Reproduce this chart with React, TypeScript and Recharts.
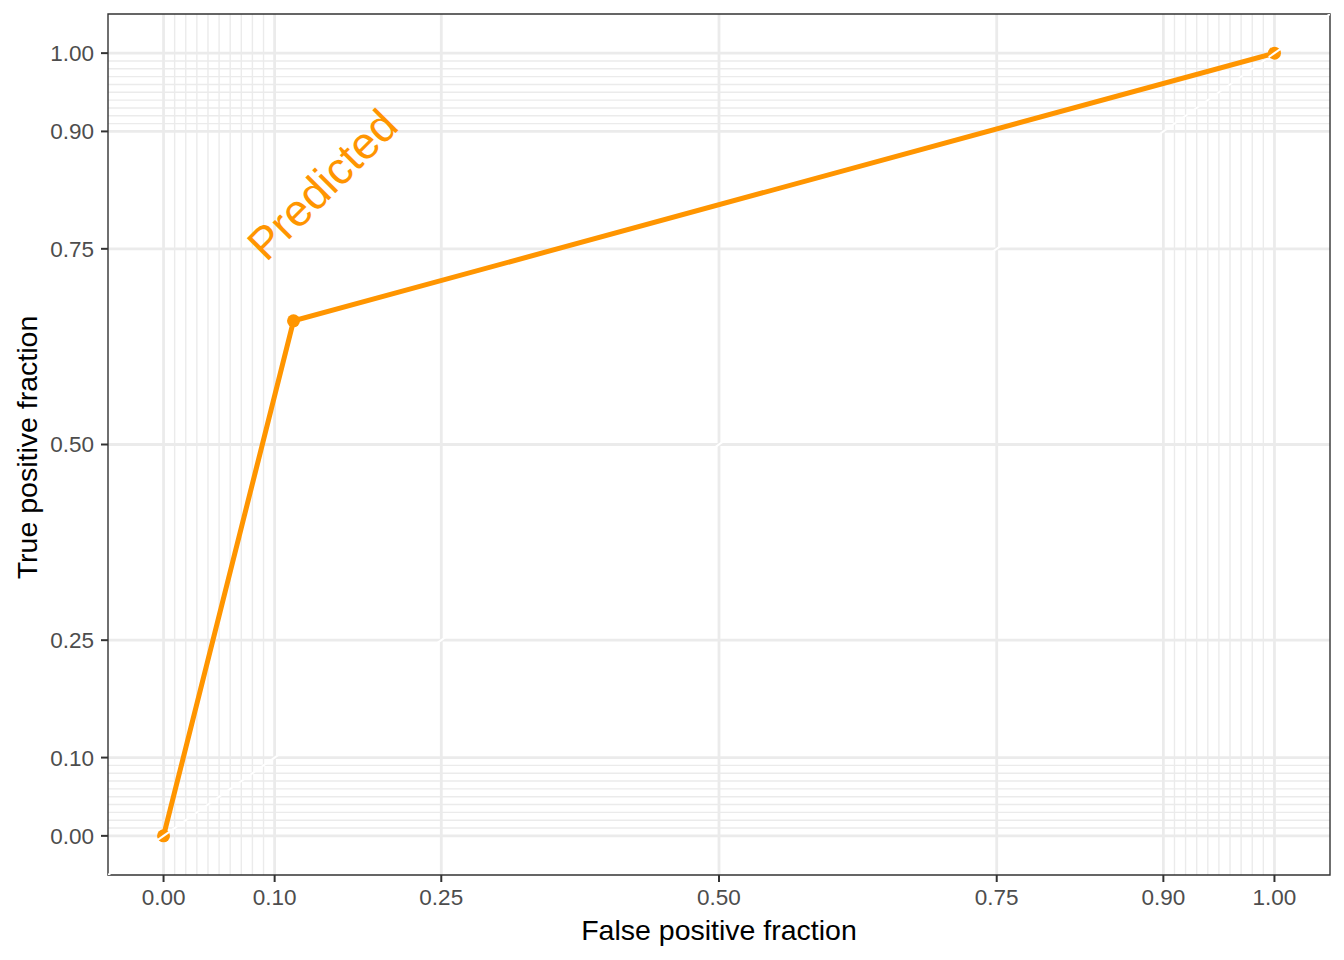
import { ComposedChart, Line, XAxis, YAxis, CartesianGrid, ReferenceArea, ReferenceDot, Label } from 'recharts'

// ROC points
const FPF = [0, 0.117, 1]
const TPF = [0, 0.658, 1]
const rocPoints = FPF.map((x, i) => ({ x, y: TPF[i] }))

// chance line across the whole panel
const DIAG_X = [-0.05, 1.05]
const diagPoints = DIAG_X.map((x) => ({ x, y: x }))

const MAJOR_TICKS = [0, 0.1, 0.25, 0.5, 0.75, 0.9, 1]
const MINOR_TICKS = [0.01, 0.02, 0.03, 0.04, 0.05, 0.06, 0.07, 0.08, 0.09, 0.91, 0.92, 0.93, 0.94, 0.95, 0.96, 0.97, 0.98, 0.99]
const DOMAIN: [number, number] = [-0.05, 1.05]

const LABEL_TEXT = 'Predicted'
const LABEL_AT = { x: 0.143, y: 0.832 }

const ORANGE = '#FF9500'
const GRID = '#EBEBEB'
const FONT = "'Liberation Sans', Arial, Helvetica, sans-serif"

const W = 1344
const H = 960
const MARGIN = { top: 14, right: 14, bottom: 0, left: 0 }
const Y_AXIS_W = 108
const X_AXIS_H = 85
// slope of the y = x line in screen space
const DIAG_ANGLE = (Math.atan((H - MARGIN.top - X_AXIS_H) / (W - MARGIN.right - Y_AXIS_W)) * 180) / Math.PI

const fmt = (v: number) => v.toFixed(2)

function XTitle({ viewBox }: any) {
    const { x, y, width } = viewBox
    return (
        <text x={x + width / 2} y={y + 65} textAnchor="middle" style={{ fill: '#000', fontSize: 28.5, fontFamily: FONT }}>
            False positive fraction
        </text>
    )
}

function YTitle({ viewBox }: any) {
    const { x, y, height } = viewBox
    const cx = x + 37
    const cy = y + height / 2 + 3
    return (
        <text x={cx} y={cy} textAnchor="middle" transform={`rotate(-90 ${cx} ${cy})`} style={{ fill: '#000', fontSize: 28.5, fontFamily: FONT }}>
            True positive fraction
        </text>
    )
}

function CurveLabel({ viewBox }: any) {
    const cx = viewBox.x + viewBox.width / 2
    const cy = viewBox.y + viewBox.height / 2
    return (
        <text x={cx} y={cy} textAnchor="middle" dominantBaseline="central" transform={`rotate(-45 ${cx} ${cy})`} style={{ fill: ORANGE, fontSize: 45, fontFamily: FONT }}>
            {LABEL_TEXT}
        </text>
    )
}

// dot with the white chance line running over it where it sits on y = x
function RocDot({ cx, cy, payload }: any) {
    if (cx == null || cy == null) return null
    const onDiag = payload && Math.abs(payload.x - payload.y) < 1e-9
    return (
        <g>
            <circle cx={cx} cy={cy} r={6.5} fill={ORANGE} />
            {onDiag && (
                <line x1={cx - 7} y1={cy} x2={cx + 7} y2={cy} stroke="#fff" strokeWidth={2} transform={`rotate(${-DIAG_ANGLE} ${cx} ${cy})`} />
            )}
        </g>
    )
}

const tickStyle = { fill: '#4D4D4D', fontSize: 22.5, fontFamily: FONT }

export default function App() {
    return (
        <div style={{ position: 'absolute', left: 0, top: 0, width: W, height: H, background: '#fff' }}>
            <ComposedChart width={W} height={H} margin={MARGIN}>
                <CartesianGrid horizontalValues={MINOR_TICKS} verticalValues={MINOR_TICKS} stroke={GRID} strokeWidth={1.4} />
                <CartesianGrid horizontalValues={MAJOR_TICKS} verticalValues={MAJOR_TICKS} stroke={GRID} strokeWidth={2.8} />
                <XAxis
                    type="number"
                    dataKey="x"
                    domain={DOMAIN}
                    ticks={MAJOR_TICKS}
                    interval={0}
                    allowDataOverflow
                    tickFormatter={fmt}
                    height={X_AXIS_H}
                    axisLine={false}
                    tickSize={7}
                    tickMargin={7}
                    tickLine={{ stroke: '#333', strokeWidth: 2 }}
                    tick={tickStyle}
                >
                    <Label content={<XTitle />} />
                </XAxis>
                <YAxis
                    type="number"
                    dataKey="y"
                    domain={DOMAIN}
                    ticks={MAJOR_TICKS}
                    interval={0}
                    allowDataOverflow
                    tickFormatter={fmt}
                    width={Y_AXIS_W}
                    axisLine={false}
                    tickSize={7}
                    tickMargin={7}
                    tickLine={{ stroke: '#333', strokeWidth: 2 }}
                    tick={tickStyle}
                >
                    <Label content={<YTitle />} />
                </YAxis>
                <Line data={diagPoints} dataKey="y" stroke="#fff" strokeWidth={2} dot={false} activeDot={false} isAnimationActive={false} />
                <Line
                    data={rocPoints}
                    dataKey="y"
                    stroke={ORANGE}
                    strokeWidth={5}
                    dot={<RocDot />}
                    activeDot={false}
                    isAnimationActive={false}
                />
                <ReferenceDot x={LABEL_AT.x} y={LABEL_AT.y} r={0} fill="none" stroke="none" label={<CurveLabel />} />
                <ReferenceArea x1={DOMAIN[0]} x2={DOMAIN[1]} y1={DOMAIN[0]} y2={DOMAIN[1]} fill="none" stroke="#333" strokeWidth={1.4} fillOpacity={0} />
            </ComposedChart>
        </div>
    )
}
